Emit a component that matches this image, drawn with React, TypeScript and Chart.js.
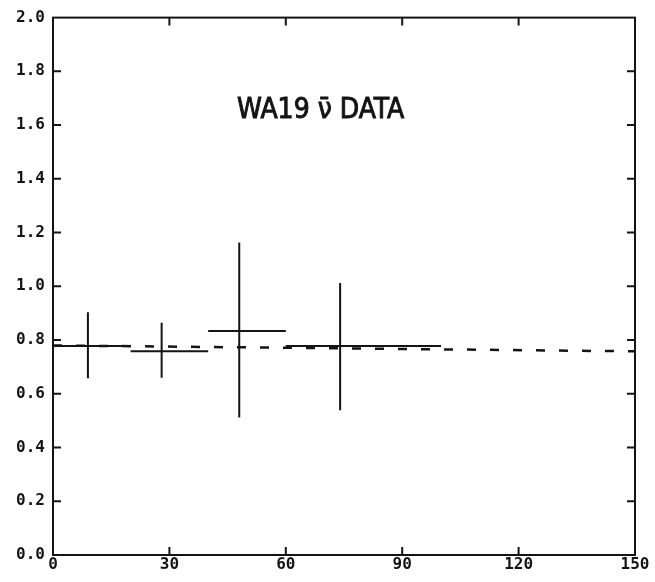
import React, { useEffect, useRef } from 'react';
import { Chart, registerables } from 'chart.js';

Chart.register(...registerables);

// Data
const binLow = [0, 20, 40, 60];
const binHigh = [20, 40, 60, 100];
const binCenter = [9, 28, 48, 74];
const ratio = [0.778, 0.758, 0.834, 0.778];
const errLow = [0.658, 0.66, 0.512, 0.539];
const errHigh = [0.903, 0.864, 1.163, 1.012];
const fitX = [0, 150];
const fitY = [0.78, 0.758];
const xTicks = [0, 30, 60, 90, 120, 150];
const yTicks = [0, 0.2, 0.4, 0.6, 0.8, 1.0, 1.2, 1.4, 1.6, 1.8, 2.0];
const titleText = 'WA19 \u03BD\u0304 DATA';

const INK = '#141414';

export default function App() {
  const ref = useRef<HTMLCanvasElement | null>(null);

  useEffect(() => {
    if (!ref.current) return;
    const datasets: any[] = [];
    for (let i = 0; i < ratio.length; i++) {
      datasets.push({
        data: [
          { x: binLow[i], y: ratio[i] },
          { x: binHigh[i], y: ratio[i] },
        ],
        borderColor: INK,
        borderWidth: 2,
        pointRadius: 0,
        tension: 0,
      });
      datasets.push({
        data: [
          { x: binCenter[i], y: errLow[i] },
          { x: binCenter[i], y: errHigh[i] },
        ],
        borderColor: INK,
        borderWidth: 2,
        pointRadius: 0,
        tension: 0,
      });
    }
    datasets.push({
      data: fitX.map((x, i) => ({ x, y: fitY[i] })),
      borderColor: INK,
      borderWidth: 2.5,
      borderDash: [9, 14],
      pointRadius: 0,
      tension: 0,
    });

    const framePlugin = {
      id: 'frame',
      afterDraw(chart: any) {
        const { ctx, chartArea: a, scales } = chart;
        const xs = scales.x;
        const ys = scales.y;
        ctx.save();
        ctx.strokeStyle = INK;
        ctx.lineWidth = 2;
        ctx.strokeRect(a.left, a.top, a.right - a.left, a.bottom - a.top);
        ctx.beginPath();
        const tl = 8;
        xTicks.forEach((v) => {
          if (v <= 0 || v >= 150) return;
          const px = xs.getPixelForValue(v);
          ctx.moveTo(px, a.bottom);
          ctx.lineTo(px, a.bottom - tl);
          ctx.moveTo(px, a.top);
          ctx.lineTo(px, a.top + tl);
        });
        yTicks.forEach((v) => {
          if (v <= 0 || v >= 2) return;
          const py = ys.getPixelForValue(v);
          ctx.moveTo(a.left, py);
          ctx.lineTo(a.left + tl, py);
          ctx.moveTo(a.right, py);
          ctx.lineTo(a.right - tl, py);
        });
        ctx.stroke();
        ctx.fillStyle = INK;
        ctx.font = '28px "DejaVu Sans Condensed", "DejaVu Sans", sans-serif';
        ctx.textAlign = 'left';
        ctx.textBaseline = 'alphabetic';
        ctx.fillText(titleText, 237, 118, 168);
        ctx.lineWidth = 0.9;
        ctx.strokeText(titleText, 237, 118, 168);
        ctx.restore();
      },
    };

    const chart = new Chart(ref.current, {
      type: 'line',
      data: { datasets },
      plugins: [framePlugin],
      options: {
        animation: false,
        responsive: false,
        devicePixelRatio: 1,
        parsing: false as any,
        layout: { padding: { left: 0, top: 17, right: 20, bottom: 0 } },
        plugins: {
          legend: { display: false },
          tooltip: { enabled: false },
          title: { display: false },
        },
        scales: {
          x: {
            type: 'linear',
            min: 0,
            max: 150,
            grid: { display: false, drawTicks: false },
            border: { display: false },
            afterBuildTicks: (s: any) => {
              s.ticks = xTicks.map((v) => ({ value: v }));
            },
            afterFit: (s: any) => {
              s.height = 27;
            },
            ticks: {
              color: INK,
              padding: 0,
              maxRotation: 0,
              autoSkip: false,
              font: { family: '"DejaVu Sans Mono", monospace', size: 16, weight: 'bold' },
              callback: (v: any) => String(v),
            },
          },
          y: {
            type: 'linear',
            min: 0,
            max: 2,
            grid: { display: false, drawTicks: false },
            border: { display: false },
            afterBuildTicks: (s: any) => {
              s.ticks = yTicks.map((v) => ({ value: v }));
            },
            afterFit: (s: any) => {
              s.width = 53;
            },
            ticks: {
              color: INK,
              padding: 8,
              autoSkip: false,
              font: { family: '"DejaVu Sans Mono", monospace', size: 16, weight: 'bold' },
              callback: (v: any) => Number(v).toFixed(1),
            },
          },
        },
      },
    });
    return () => chart.destroy();
  }, []);

  return (
    <div style={{ position: 'fixed', left: 0, top: 0, width: 655, height: 582, background: '#fff' }}>
      <canvas ref={ref} width={655} height={582} />
    </div>
  );
}
